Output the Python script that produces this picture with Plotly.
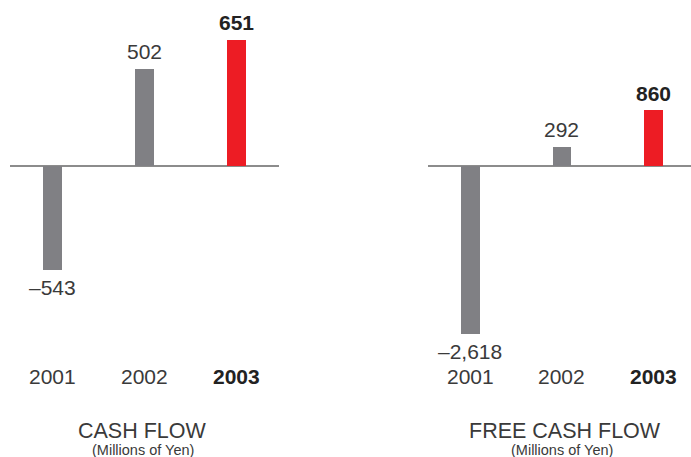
import plotly.graph_objects as go

years = ["2001", "2002", "2003"]
cash_flow = [-543, 502, 651]
free_cash_flow = [-2618, 292, 860]
cash_flow_labels = ["–543", "502", "651"]
free_cash_flow_labels = ["–2,618", "292", "860"]
titles = ["CASH FLOW", "FREE CASH FLOW"]
subtitle = "(Millions of Yen)"

GRAY = "#808084"
RED = "#ed1c24"
TEXT = "#3a3a3a"
BOLD = "#222222"
FONT = "Liberation Sans, Arial, Helvetica, sans-serif"
W, H = 691, 457

bar_colors = [GRAY, GRAY, RED]

fig = go.Figure()
fig.add_trace(go.Bar(x=years, y=cash_flow, marker=dict(color=bar_colors, line=dict(width=0)),
                     width=0.207, xaxis="x", yaxis="y", hoverinfo="skip"))
fig.add_trace(go.Bar(x=years, y=free_cash_flow, marker=dict(color=bar_colors, line=dict(width=0)),
                     width=0.207, xaxis="x2", yaxis="y2", hoverinfo="skip"))

base_px = 165.5
s1 = 0.193
s2 = 0.0645

annotations = []
for xa, ya, vals, labels in [("x", "y", cash_flow, cash_flow_labels),
                             ("x2", "y2", free_cash_flow, free_cash_flow_labels)]:
    for i, (yr, v, lab) in enumerate(zip(years, vals, labels)):
        bold = i == 2
        annotations.append(dict(
            x=i, y=v, xref=xa, yref=ya, text=f"<b>{lab}</b>" if bold else lab,
            showarrow=False, yanchor="middle", xanchor="center",
            yshift=17 if v > 0 else -17,
            font=dict(family=FONT, size=21, color=BOLD if bold else TEXT)))
        annotations.append(dict(
            x=i, y=1 - 376.5 / H, xref=xa, yref="paper",
            text=f"<b>{yr}</b>" if bold else yr,
            showarrow=False, yanchor="middle", xanchor="center",
            font=dict(family=FONT, size=21, color=BOLD if bold else TEXT)))

for cx, t, scx in [(142 / W, titles[0], 143 / W), (565 / W, titles[1], 562 / W)]:
    annotations.append(dict(x=cx, y=1 - 430.5 / H, xref="paper", yref="paper", text=t,
                            showarrow=False, yanchor="middle", xanchor="center",
                            font=dict(family=FONT, size=21.5, color=TEXT)))
    annotations.append(dict(x=scx, y=1 - 450 / H, xref="paper", yref="paper", text=subtitle,
                            showarrow=False, yanchor="middle", xanchor="center",
                            font=dict(family=FONT, size=14.5, color=TEXT)))

axis_common = dict(showgrid=False, showticklabels=False, ticks="", showline=False, fixedrange=True)

fig.update_layout(
    width=W, height=H,
    margin=dict(l=0, r=0, t=0, b=0),
    paper_bgcolor="white", plot_bgcolor="rgba(0,0,0,0)",
    showlegend=False,
    bargap=0,
    xaxis=dict(domain=[10 / W, 279 / W], range=[-0.462, 2.462], type="category", zeroline=False, **axis_common),
    xaxis2=dict(domain=[428 / W, 1.0], range=[-0.464, 2.41], type="category", zeroline=False, **axis_common),
    yaxis=dict(domain=[0, 1], range=[-(H - base_px) / s1, base_px / s1], zeroline=True,
               zerolinecolor="#8c8c8c", zerolinewidth=2, **axis_common),
    yaxis2=dict(domain=[0, 1], anchor="x2", range=[-(H - base_px) / s2, base_px / s2], zeroline=True,
                zerolinecolor="#8c8c8c", zerolinewidth=2, **axis_common),
    annotations=annotations,
)

fig.write_html("out.html", config={"displayModeBar": False, "staticPlot": True},
               post_script="document.body.style.margin='0';document.body.style.overflow='hidden';")
